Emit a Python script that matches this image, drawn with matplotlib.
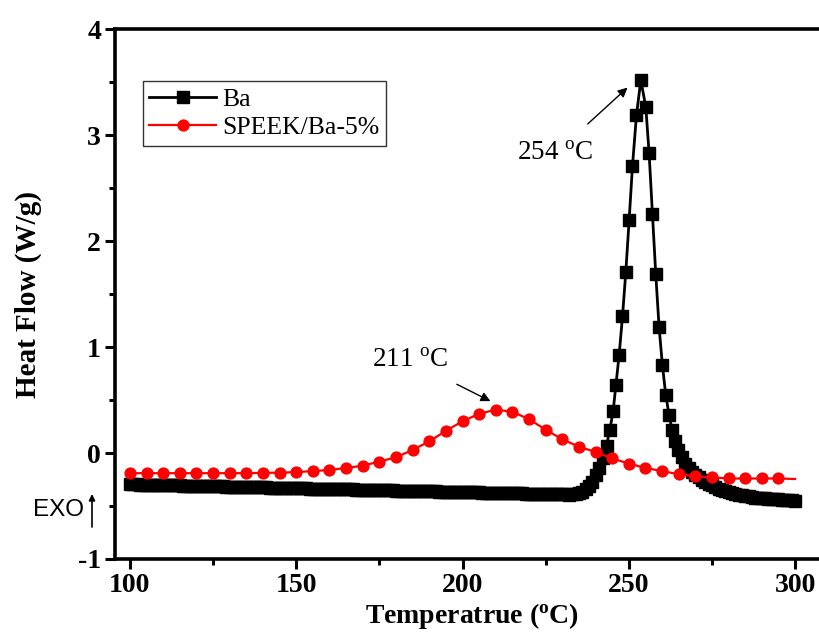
import numpy as np
import matplotlib
matplotlib.use('Agg')
import matplotlib.pyplot as plt

plt.rcParams['font.family'] = 'Liberation Serif'
plt.rcParams['mathtext.fontset'] = 'custom'
plt.rcParams['mathtext.rm'] = 'Liberation Serif'
plt.rcParams['mathtext.bf'] = 'Liberation Serif:bold'
plt.rcParams['axes.unicode_minus'] = False

# Ba curve: flat part 100-241 at 1 degree steps, then the peak and the tail
ba_flat_t = list(range(100, 242))
ba_flat_hf = [-0.295, -0.296, -0.296, -0.297, -0.298, -0.299, -0.299, -0.300, -0.301, -0.302,
              -0.302, -0.303, -0.304, -0.305, -0.305, -0.306, -0.307, -0.307, -0.308, -0.309,
              -0.310, -0.310, -0.311, -0.312, -0.313, -0.313, -0.314, -0.315, -0.315, -0.316,
              -0.317, -0.318, -0.318, -0.319, -0.320, -0.321, -0.321, -0.322, -0.323, -0.324,
              -0.324, -0.325, -0.326, -0.326, -0.327, -0.328, -0.329, -0.329, -0.330, -0.331,
              -0.332, -0.332, -0.333, -0.334, -0.335, -0.335, -0.336, -0.337, -0.337, -0.338,
              -0.339, -0.340, -0.340, -0.341, -0.342, -0.343, -0.343, -0.344, -0.345, -0.345,
              -0.346, -0.347, -0.348, -0.348, -0.349, -0.350, -0.351, -0.351, -0.352, -0.353,
              -0.354, -0.354, -0.355, -0.356, -0.356, -0.357, -0.358, -0.359, -0.359, -0.360,
              -0.361, -0.362, -0.362, -0.363, -0.364, -0.364, -0.365, -0.366, -0.367, -0.367,
              -0.368, -0.369, -0.370, -0.370, -0.371, -0.372, -0.373, -0.373, -0.374, -0.375,
              -0.375, -0.376, -0.377, -0.378, -0.378, -0.379, -0.380, -0.381, -0.381, -0.382,
              -0.383, -0.383, -0.384, -0.385, -0.386, -0.386, -0.387, -0.388, -0.389, -0.389,
              -0.390, -0.391, -0.392, -0.391, -0.388, -0.380, -0.365, -0.340, -0.310, -0.270,
              -0.210, -0.140]
ba_peak_t = [242.1, 243.3, 244.3, 245.3, 246.1, 247.1, 248.1, 249.1, 250.1, 251.1,
             252.3, 253.6, 255.1, 256.1, 257.1, 258.1, 259.1, 260.1, 261.1, 262.1,
             263.0, 263.9, 264.9, 265.9]
ba_peak_hf = [-0.05, 0.07, 0.22, 0.40, 0.64, 0.93, 1.29, 1.71, 2.20, 2.71,
              3.19, 3.52, 3.27, 2.83, 2.26, 1.69, 1.19, 0.83, 0.55, 0.36,
              0.22, 0.11, 0.03, -0.04]
ba_tail_t = list(range(267, 301))
ba_tail_hf = [-0.10, -0.14, -0.18, -0.21, -0.23, -0.25, -0.27, -0.29, -0.305, -0.32,
              -0.335, -0.35, -0.36, -0.37, -0.38, -0.39, -0.395, -0.40, -0.405, -0.41,
              -0.415, -0.42, -0.422, -0.425, -0.428, -0.43, -0.432, -0.435, -0.437, -0.44,
              -0.442, -0.445, -0.447, -0.45]

# SPEEK/Ba-5% curve
sp_t = [100, 105, 110, 115, 120, 125, 130, 135, 140, 145,
        150, 155, 160, 165, 170, 175, 180, 185, 190, 195,
        200, 205, 210, 215, 220, 225, 230, 235, 240, 245,
        250, 255, 260, 265, 270, 275, 280, 285, 290, 295, 300]
sp_hf = [-0.19, -0.19, -0.19, -0.19, -0.19, -0.19, -0.19, -0.19, -0.187, -0.185,
         -0.18, -0.17, -0.16, -0.14, -0.12, -0.08, -0.04, 0.03, 0.11, 0.21,
         0.30, 0.37, 0.41, 0.39, 0.32, 0.22, 0.13, 0.06, 0.01, -0.05,
         -0.10, -0.14, -0.17, -0.20, -0.22, -0.23, -0.24, -0.24, -0.24, -0.24, -0.245]

ba_t = ba_flat_t + ba_peak_t + ba_tail_t
ba_hf = ba_flat_hf + ba_peak_hf + ba_tail_hf

fig = plt.figure(figsize=(8.2, 6.42), dpi=100)
ax = fig.add_axes([0.1402, 0.1293, 0.87, 0.825])

ax.plot(ba_t, ba_hf, color='black', lw=2, marker='s', ms=8.5, label='Ba')
ax.plot(sp_t, sp_hf, color='red', lw=1.6, marker='o', ms=7.8,
        markevery=slice(0, len(sp_t) - 1), label='SPEEK/Ba-5%')

ax.set_xlim(95.5, 310)
ax.set_ylim(-1, 4)
ax.set_xticks([100, 150, 200, 250, 300])
ax.set_xticks([125, 175, 225, 275], minor=True)
ax.set_yticks([-1, 0, 1, 2, 3, 4])
ax.set_yticks([-0.5, 0.5, 1.5, 2.5, 3.5], minor=True)
ax.tick_params(which='both', direction='out', width=2.2, top=False, right=False)
ax.tick_params(which='major', length=7, labelsize=20, pad=3)
ax.tick_params(which='minor', length=4)
for lab in ax.get_xticklabels() + ax.get_yticklabels():
    lab.set_fontweight('bold')
for s in ['left', 'bottom', 'top']:
    ax.spines[s].set_linewidth(2.6)
ax.spines['right'].set_visible(False)

ax.set_xlabel('Temperatrue ($\\mathbf{^{o}}$C)', fontsize=20, fontweight='bold', labelpad=2)
ax.set_ylabel('Heat Flow (W/g)', fontsize=21, fontweight='bold', labelpad=26)

leg = ax.legend(loc='upper left', bbox_to_anchor=(0.039, 0.902), fontsize=18.5,
                frameon=True, fancybox=False, handlelength=2.6, borderpad=0.25,
                labelspacing=0.22, handletextpad=0.25, borderaxespad=0)
leg.get_frame().set_edgecolor('black')
leg.get_frame().set_linewidth(1.0)

ax.annotate('254 $^{\\rm o}$C', xy=(249.6, 3.45), xytext=(228, 2.83), fontsize=19.5,
            ha='center', va='center',
            arrowprops=dict(arrowstyle='-|>', color='black', lw=1, mutation_scale=14,
                            shrinkA=15, shrinkB=0))
ax.annotate('211 $^{\\rm o}$C', xy=(208.4, 0.49), xytext=(184.3, 0.87), fontsize=19.5,
            ha='center', va='center',
            arrowprops=dict(arrowstyle='-|>', color='black', lw=1, mutation_scale=14,
                            shrinkA=13, shrinkB=0))

fig.text(33 / 820, 1 - 510 / 642, 'EXO', family='Liberation Sans', fontsize=17.5,
         ha='left', va='center')
ax.annotate('', xy=(92 / 820, 1 - 494 / 642), xytext=(92 / 820, 1 - 527 / 642),
            xycoords='figure fraction', textcoords='figure fraction',
            arrowprops=dict(arrowstyle='-|>', color='black', lw=1.2, mutation_scale=9,
                            shrinkA=0, shrinkB=0), annotation_clip=False)

fig.savefig('out.png', dpi=100)
